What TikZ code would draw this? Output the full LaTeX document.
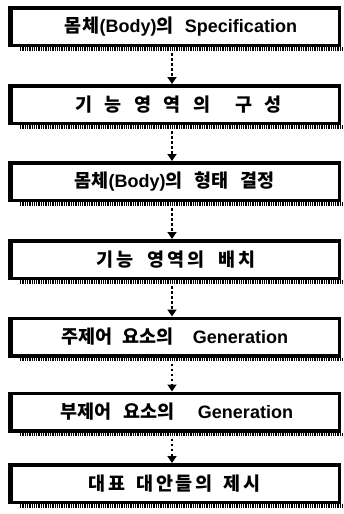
\documentclass[tikz,border=0pt]{standalone}
\usepackage{fontspec}
\setmainfont{Noto Sans CJK KR}
\newfontfamily\latf{Liberation Sans}
\usetikzlibrary{arrows.meta}
\newcommand\lat[1]{{\latf\fontsize{18}{20}\selectfont #1}}
\newcommand\gk{\hspace{0pt plus 1fil}}
\newcommand\gw{\hspace{0pt plus 3fil}}
\newcommand\gx{\hspace{0pt plus 4fil}}
\newcommand\gy{\hspace{0pt plus 2fil}}
\begin{document}
\begin{tikzpicture}[x=1pt,y=-1pt,
  flowbox/.style={draw, line width=3.5pt, minimum width=329.5pt, minimum height=37.5pt,
    inner sep=0pt, font=\fontsize{18.5}{20}\selectfont\bfseries},
  conn/.style={line width=2.5pt, dash pattern=on 2.5pt off 2.5pt,
    -{Triangle[width=9pt,length=7pt]}},
  shadowline/.style={line width=3.5pt, dash pattern=on 1.3pt off 1pt},
  thickside/.style={line width=3pt}]
\useasboundingbox (0,0) rectangle (343,514);

\node[flowbox] (b1) at (174.5,26.5) {\hspace{12pt}\makebox[233pt][s]{몸\hspace{1.5pt}체\lat{(Body)}의\gk{}\lat{Specification}}};
\node[flowbox] (b2) at (174.5,104.5) {\hspace{8pt}\makebox[207pt][s]{기\gk{}능\gk{}영\gk{}역\gk{}의\gy{}구\gk{}성}};
\node[flowbox] (b3) at (174.5,181.5) {\makebox[200pt][s]{몸체\lat{(Body)}의\gk{}형태\gk{}결정}\hspace{8pt}};
\node[flowbox] (b4) at (174.5,259.5) {\hspace{3pt}\makebox[160pt][s]{기\gk{}능\gx{}영\gk{}역\gk{}의\gx{}배\gk{}치}};
\node[flowbox] (b5) at (174.5,337) {\makebox[227pt][s]{주제어\gk{}요소의\gy{}\lat{Generation}}};
\node[flowbox] (b6) at (174.5,412) {\hspace{4pt}\makebox[233pt][s]{부제어\gk{}요소의\gy{}\lat{Generation}}};
\node[flowbox] (b7) at (174.5,483.5) {\makebox[172pt][s]{대\gk{}표\gx{}대\gk{}안\gk{}들\gk{}의\gx{}제\gk{}시}\hspace{4pt}};

\foreach \n in {b1,b2,b3,b4,b5,b6,b7} {
  \draw[thickside] ([xshift=3.5pt]\n.north west) -- ([xshift=3.5pt]\n.south west);
  \draw[shadowline] ([xshift=12pt,yshift=-2pt]\n.south west) -- ([xshift=2pt,yshift=-2pt]\n.south east);
}

\foreach \a/\b in {b1/b2,b2/b3,b3/b4,b4/b5,b5/b6,b6/b7} {
  \draw[conn] ([xshift=-2.5pt,yshift=-6pt]\a.south) -- ([xshift=-2.5pt]\b.north);
}
\end{tikzpicture}
\end{document}
